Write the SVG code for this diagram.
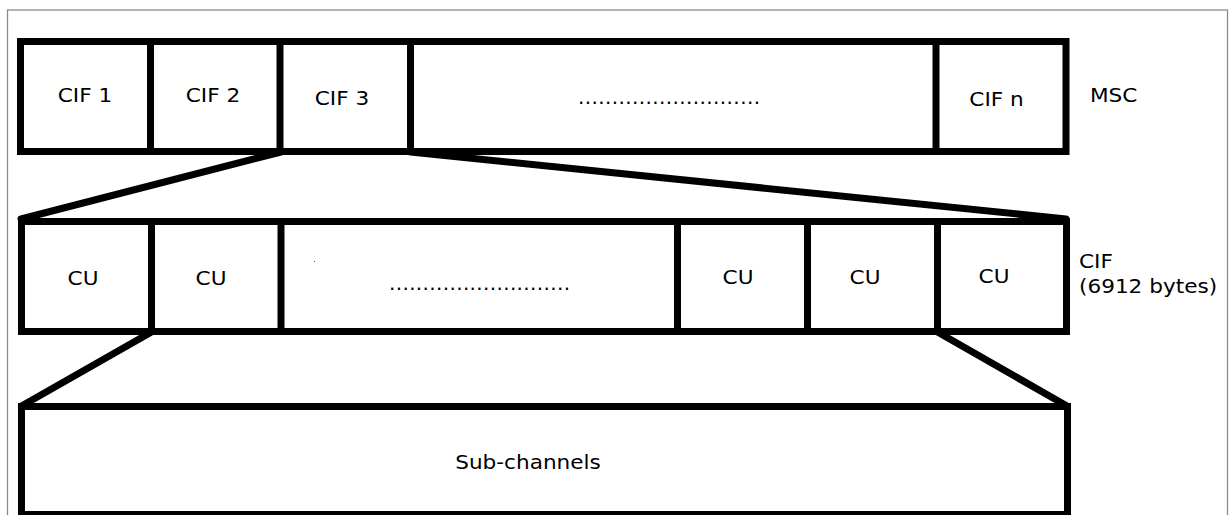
<svg xmlns="http://www.w3.org/2000/svg" width="1230" height="515" viewBox="0 0 1230 515">
  <style>
    .box { fill: #ffffff; stroke: #000000; stroke-width: 7; }
    .div { stroke: #000000; stroke-width: 7; }
    .link { stroke: #000000; stroke-width: 7; stroke-linecap: round; fill: none; }
    .lbl { font-family: "DejaVu Sans", "Liberation Sans", sans-serif; font-size: 20px; fill: #000000; }
    .mid { text-anchor: middle; }
  </style>

  <!-- page frame -->
  <rect x="7.5" y="10" width="1220" height="520" fill="#ffffff" stroke="#8a8a8a" stroke-width="1.3"/>

  <!-- connectors: zoom-in lines between levels -->
  <g id="connectors">
    <line class="link" x1="281" y1="152" x2="21" y2="219"/>
    <line class="link" x1="410.5" y1="152" x2="1066" y2="219"/>
    <line class="link" x1="151.5" y1="332" x2="21.5" y2="406"/>
    <line class="link" x1="937.5" y1="332" x2="1067" y2="406"/>
  </g>

  <!-- MSC: sequence of CIFs -->
  <g id="msc">
    <rect class="box" x="20.5" y="41.5" width="1045.5" height="110"/>
    <line class="div" x1="150.5" y1="41.5" x2="150.5" y2="151.5"/>
    <line class="div" x1="280" y1="41.5" x2="280" y2="151.5"/>
    <line class="div" x1="410.5" y1="41.5" x2="410.5" y2="151.5"/>
    <line class="div" x1="936" y1="41.5" x2="936" y2="151.5"/>
    <text class="lbl mid" transform="translate(85,102) scale(1.08,1)">CIF 1</text>
    <text class="lbl mid" transform="translate(213,102) scale(1.08,1)">CIF 2</text>
    <text class="lbl mid" transform="translate(342,105) scale(1.08,1)">CIF 3</text>
    <text class="lbl" x="578" y="104" textLength="182" lengthAdjust="spacing">...........................</text>
    <text class="lbl mid" transform="translate(996.5,106) scale(1.08,1)">CIF n</text>
    <text class="lbl" transform="translate(1090,102) scale(1.08,1)">MSC</text>
  </g>

  <!-- CIF: sequence of capacity units -->
  <g id="cif">
    <rect class="box" x="21.5" y="221.5" width="1045" height="110"/>
    <line class="div" x1="151.5" y1="221.5" x2="151.5" y2="331.5"/>
    <line class="div" x1="281" y1="221.5" x2="281" y2="331.5"/>
    <line class="div" x1="677.5" y1="221.5" x2="677.5" y2="331.5"/>
    <line class="div" x1="807.5" y1="221.5" x2="807.5" y2="331.5"/>
    <line class="div" x1="937.5" y1="221.5" x2="937.5" y2="331.5"/>
    <rect x="314" y="261" width="1" height="1" fill="#555555"/>
    <text class="lbl mid" transform="translate(83,285) scale(1.08,1)">CU</text>
    <text class="lbl mid" transform="translate(211,285) scale(1.08,1)">CU</text>
    <text class="lbl" x="389" y="290" textLength="181" lengthAdjust="spacing">...........................</text>
    <text class="lbl mid" transform="translate(738,284) scale(1.08,1)">CU</text>
    <text class="lbl mid" transform="translate(865,284) scale(1.08,1)">CU</text>
    <text class="lbl mid" transform="translate(994,283) scale(1.08,1)">CU</text>
    <text class="lbl" transform="translate(1079,268) scale(1.08,1)">CIF</text>
    <text class="lbl" transform="translate(1079,293) scale(1.08,1)">(6912 bytes)</text>
  </g>

  <!-- Sub-channels -->
  <g id="subchannels">
    <rect class="box" x="21.5" y="406.5" width="1046" height="108"/>
    <text class="lbl mid" transform="translate(528,469) scale(1.08,1)">Sub-channels</text>
  </g>
</svg>
